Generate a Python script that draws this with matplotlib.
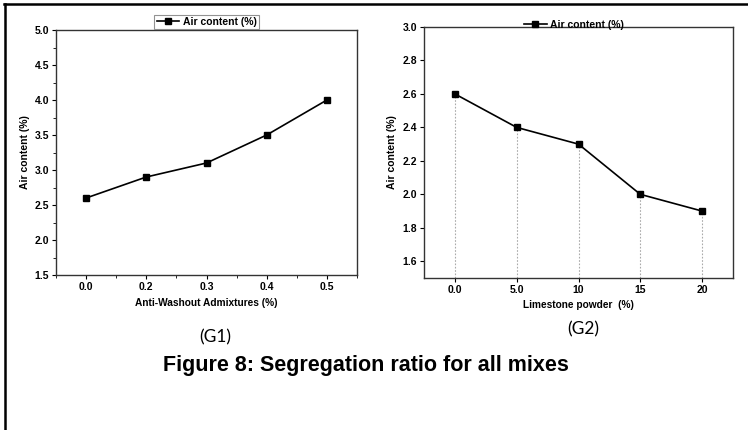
import matplotlib
matplotlib.use("Agg")
import matplotlib.pyplot as plt
from matplotlib.lines import Line2D
from matplotlib.ticker import MultipleLocator, FixedLocator

plt.rcParams['font.family'] = ['Liberation Sans', 'DejaVu Sans']

# Data
g1_categories = ["0.0", "0.2", "0.3", "0.4", "0.5"]
g1_values = [2.6, 2.9, 3.1, 3.5, 4.0]
g2_categories = ["0.0", "5.0", "10", "15", "20"]
g2_values = [2.6, 2.4, 2.3, 2.0, 1.9]
series_label = "Air content (%)"
g1_xlabel = "Anti-Washout Admixtures (%)"
g2_xlabel = "Limestone powder  (%)"
ylabel = "Air content (%)"
title = "Figure 8: Segregation ratio for all mixes"

W, H = 748, 430
fig = plt.figure(figsize=(W / 100, H / 100), dpi=100)

def px_axes(x0, y0, x1, y1):
    return fig.add_axes([x0 / W, 1 - y1 / H, (x1 - x0) / W, (y1 - y0) / H])

tick_font = dict(fontsize=7.5, fontweight='bold')

# Left panel (G1)
ax1 = px_axes(56, 30, 357, 275)
x1 = list(range(len(g1_categories)))
ax1.plot(x1, g1_values, color='black', lw=1.2, marker='s', ms=4.5, label=series_label)
ax1.set_xlim(-0.5, len(g1_categories) - 0.5)
ax1.set_ylim(1.5, 5.0)
ax1.set_xticks(x1)
ax1.set_xticklabels(g1_categories, **tick_font)
ax1.yaxis.set_major_locator(MultipleLocator(0.5))
ax1.yaxis.set_minor_locator(MultipleLocator(0.25))
ax1.xaxis.set_minor_locator(FixedLocator([i + 0.5 for i in range(-1, len(g1_categories))]))
for lab in ax1.get_yticklabels():
    lab.set_fontsize(7.5); lab.set_fontweight('bold')
ax1.set_xlabel(g1_xlabel, fontsize=7.3, fontweight='bold', labelpad=4)
ax1.set_ylabel(ylabel, fontsize=7.5, fontweight='bold', labelpad=3)
leg1 = ax1.legend(loc='lower center', bbox_to_anchor=(0.5, 1.005),
                  prop=dict(weight='bold', size=7.5), frameon=True, fancybox=False,
                  borderpad=0.2, handlelength=2.2, handletextpad=0.3, borderaxespad=0)
leg1.get_frame().set_edgecolor('#777777')
leg1.get_frame().set_linewidth(0.8)

# Right panel (G2)
ax2 = px_axes(424, 27, 733, 278)
x2 = list(range(len(g2_categories)))
ax2.vlines(x2, 1.5, g2_values, colors='#aaaaaa', linestyles=(0, (1.5, 1.5)), lw=0.8)
ax2.plot(x2, g2_values, color='black', lw=1.2, marker='s', ms=4.5, label=series_label)
ax2.set_xlim(-0.5, len(g2_categories) - 0.5)
ax2.set_ylim(1.5, 3.0)
ax2.set_xticks(x2)
ax2.set_xticklabels(g2_categories, **tick_font)
ax2.set_yticks([1.6, 1.8, 2.0, 2.2, 2.4, 2.6, 2.8, 3.0])
for lab in ax2.get_yticklabels():
    lab.set_fontsize(7.5); lab.set_fontweight('bold')
ax2.set_xlabel(g2_xlabel, fontsize=7.3, fontweight='bold', labelpad=4)
ax2.set_ylabel(ylabel, fontsize=7.5, fontweight='bold', labelpad=4)
ax2.legend(loc='lower center', bbox_to_anchor=(0.485, 0.985),
           prop=dict(weight='bold', size=7.5), frameon=False,
           borderpad=0.1, handlelength=2.2, handletextpad=0.3, borderaxespad=0)

for ax in (ax1, ax2):
    for sp in ax.spines.values():
        sp.set_linewidth(1.0)
        sp.set_color('#333333')
    ax.tick_params(which='major', length=3, width=0.8, pad=2)
    ax.tick_params(which='minor', length=2, width=0.6)

# Captions
fig.text(215 / W, 1 - 337 / H, "(G1)", fontsize=12.5, family=['Lato', 'DejaVu Sans'],
         ha='center', va='center')
fig.text(583 / W, 1 - 329 / H, "(G2)", fontsize=12.5, family=['Lato', 'DejaVu Sans'],
         ha='center', va='center')
fig.text(366 / W, 1 - 365 / H, title, fontsize=15.5, fontweight='bold',
         ha='center', va='center')

# Page border lines (top and left)
fig.add_artist(Line2D([4 / W, 1], [1 - 4 / H, 1 - 4 / H], color='black', lw=1.8,
                      transform=fig.transFigure))
fig.add_artist(Line2D([4.5 / W, 4.5 / W], [0, 1 - 4 / H], color='black', lw=1.8,
                      transform=fig.transFigure))

fig.savefig("out.png", dpi=100)
